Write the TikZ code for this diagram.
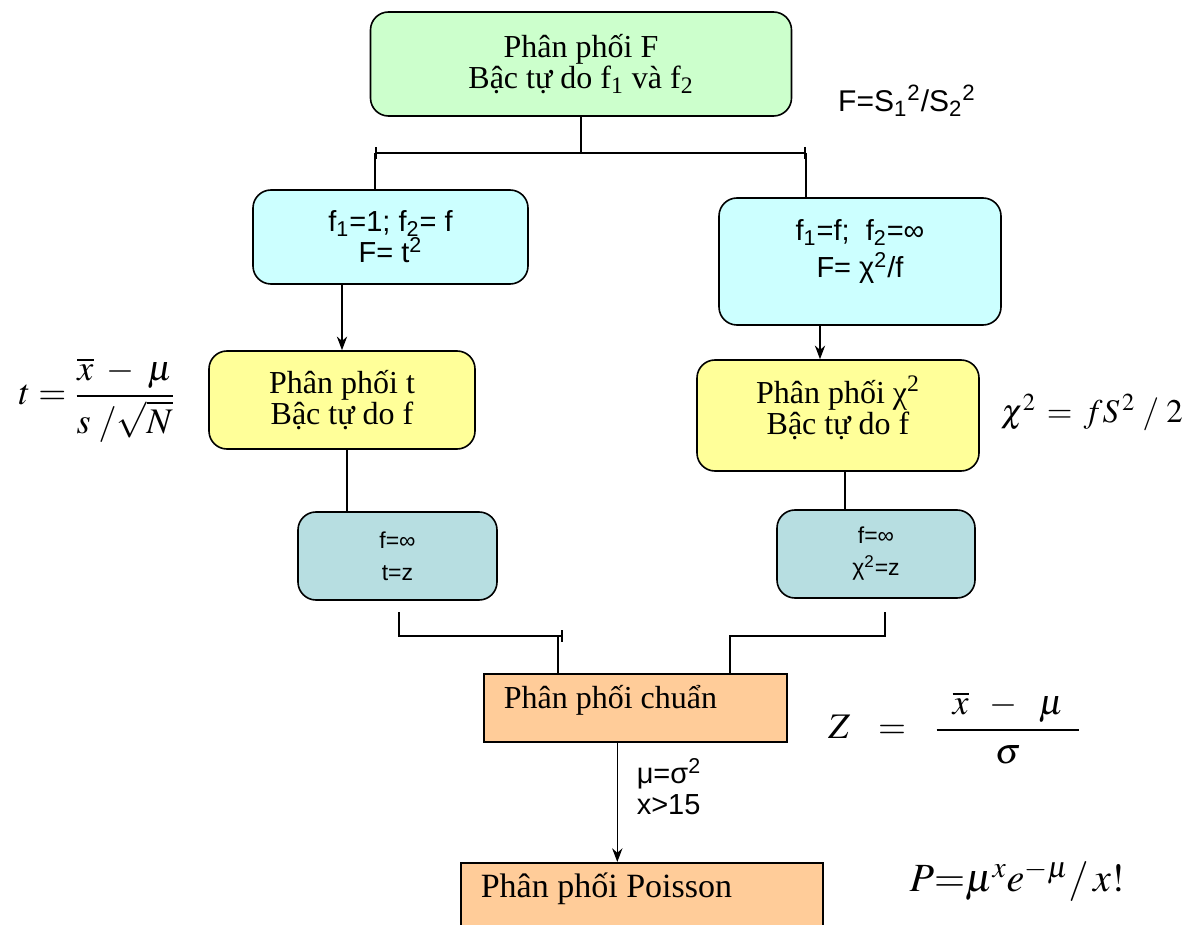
\documentclass[tikz,border=0pt]{standalone}
\usepackage{amsmath}
\usepackage{mathptmx}
\usepackage{fontspec}
\setmainfont{Liberation Serif}
\setsansfont{Liberation Sans}
\usepackage{tikz}
\usetikzlibrary{arrows.meta}
\definecolor{xanhla}{HTML}{CCFFCC}
\definecolor{xanhnhat}{HTML}{CCFFFF}
\definecolor{vang}{HTML}{FFFF99}
\definecolor{ngoc}{HTML}{B7DEE1}
\definecolor{cam}{HTML}{FFCC99}

\begin{document}
\begin{tikzpicture}[
  x=0.5pt, y=-0.5pt,
  font=\fontsize{16}{15.5}\selectfont,
  hop/.style={draw, thick, rounded corners=9pt, align=center, inner sep=3pt},
  hopsf/.style={hop, font=\sffamily\fontsize{14.5}{15.5}\selectfont},
  hopvuong/.style={draw, thick, fill=cam, align=flush left, anchor=north west, inner xsep=10pt, inner ysep=0pt, text height=17.5pt},
  muiten/.style={-{Stealth[length=2.4mm]}, thick},
  noi/.style={thick},
  nhan/.style={font=\sffamily\fontsize{14.5}{15.5}\selectfont, align=left, anchor=west},
  cthuc/.style={font=\fontsize{18}{20}\selectfont}
]
  \useasboundingbox (0,0) rectangle (1190,925);

  % hang tren
  \node[hop, fill=xanhla, minimum width=210.5pt, minimum height=52pt] (fbox) at (581,64)
    {Phân phối F\\Bậc tự do f\textsubscript{1} và f\textsubscript{2}};
  \node[font=\sffamily\fontsize{15}{15}\selectfont] (fct) at (907,101)
    {F=S\textsubscript{1}\textsuperscript{2}/S\textsubscript{2}\textsuperscript{2}};

  \node[hopsf, fill=xanhnhat, minimum width=137.5pt, minimum height=47pt] (tbox) at (390.5,237)
    {f\textsubscript{1}=1; f\textsubscript{2}= f\\F= t\textsuperscript{2}};
  \node[hopsf, fill=xanhnhat, minimum width=141pt, minimum height=63.5pt,
        font=\sffamily\fontsize{14.5}{18.5}\selectfont] (chibox) at (860,261.5)
    {f\textsubscript{1}=f;\ \ f\textsubscript{2}=∞\\F= χ\textsuperscript{2}/f\\[-6pt]\mbox{}};

  \node[hop, fill=vang, minimum width=133pt, minimum height=49pt] (tdist) at (342,400)
    {Phân phối t\\Bậc tự do f};
  \node[hop, fill=vang, minimum width=141pt, minimum height=55.5pt] (chidist) at (838,415.5)
    {Phân phối χ\textsuperscript{2}\\Bậc tự do f\\[-5pt]\mbox{}};

  \node[cthuc] (tct) at (97,400) {$t=\dfrac{\overline{x}\;-\;\mu}{s\;/\sqrt{N}}$};
  \node[cthuc, font=\fontsize{16.5}{20}\selectfont] (chict) at (1092,412) {$\chi^2 \,=\, fS^{\,2}\;/\;2$};

  \node[hopsf, fill=ngoc, minimum width=99.5pt, minimum height=44pt,
        font=\sffamily\fontsize{11.5}{16}\selectfont] (tz) at (397.5,556) {f=∞\\t=z};
  \node[hopsf, fill=ngoc, minimum width=99pt, minimum height=44pt,
        font=\sffamily\fontsize{11.5}{16}\selectfont] (chiz) at (876,554) {f=∞\\χ\textsuperscript{2}=z};

  % hang duoi
  \node[hopvuong, text width=131.5pt, text depth=16.5pt] (chuan) at (483,673) {Phân phối chuẩn};
  \node[hopvuong, text width=161pt, text depth=20pt, font=\fontsize{17}{17}\selectfont] (poisson) at (460,862)
    {Phân phối Poisson};

  \node[cthuc] (zct) at (955,728) {$Z\;\;\,=\;\;\,\dfrac{\;\;\overline{x}\;\;-\;\;\mu\;\;}{\sigma}$};
  \node[font=\fontsize{20}{24}\selectfont] (pct) at (1017,881) {$P{=}\mu^{x}e^{-\mu}/\,x!$};

  % noi F -> t, chi2
  \coordinate (nhanh) at (581,153);
  \coordinate (tre) at (375,153);
  \coordinate (phai) at (806,153);
  \draw[noi] (fbox.south) -- (nhanh);
  \draw[noi, {Bar[width=6pt]}-{Bar[width=6pt]}] (tre) -- (phai);
  \draw[noi] (tre) -- (tre |- tbox.north);
  \draw[noi] (phai) -- (phai |- chibox.north);

  \draw[muiten] (tbox.south -| tdist.north) -- (tdist.north);
  \draw[muiten] ([xshift=-9pt]chidist.north |- chibox.south) -- ([xshift=-9pt]chidist.north);
  \draw[noi] ([xshift=2.5pt]tdist.south) -- ([xshift=2.5pt]tdist.south |- tz.north);
  \draw[noi] ([xshift=3.5pt]chidist.south) -- ([xshift=3.5pt]chidist.south |- chiz.north);

  % noi ve phan phoi chuan
  \coordinate (t1) at (399,612);
  \coordinate (t2) at (563,636);
  \coordinate (t3) at (558,636);
  \coordinate (p1) at (885,612);
  \coordinate (p2) at (730,636);
  \draw[noi, -{Bar[width=6pt]}] (t1) |- (t2);
  \draw[noi] (t3) -- (t3 |- chuan.north);
  \draw[noi] (p1) |- (p2) -- (p2 |- chuan.north);

  \draw[muiten] ([xshift=-9pt]chuan.south) -- ([xshift=-9pt]chuan.south |- poisson.north)
    node[nhan, pos=0.37, xshift=6pt] (dk) {μ=σ\textsuperscript{2}\\x>15};
\end{tikzpicture}
\end{document}
